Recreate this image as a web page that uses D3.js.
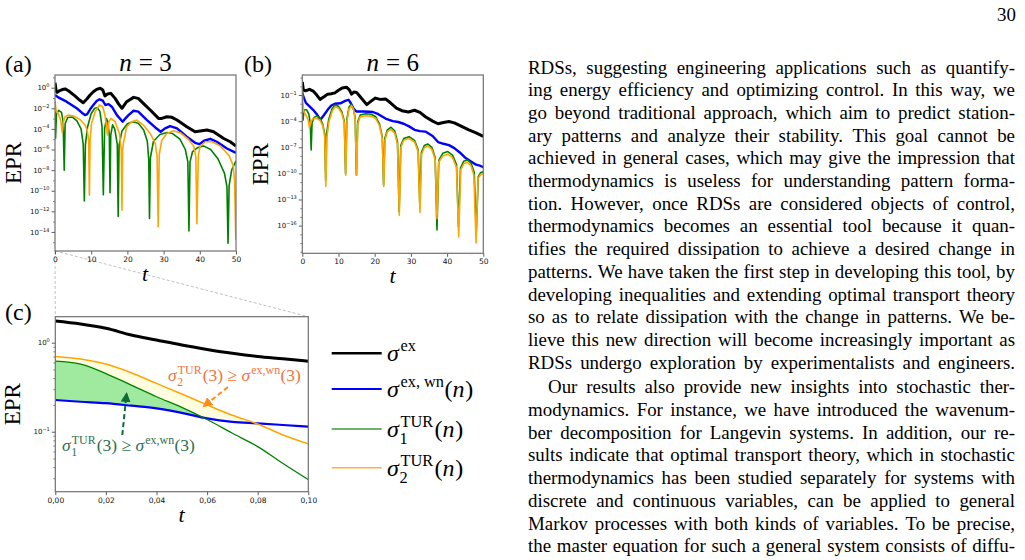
<!DOCTYPE html>
<html><head><meta charset="utf-8">
<script src="https://cdn.jsdelivr.net/npm/d3@7"></script>
<style>body{margin:0;background:#fff;} svg{display:block;} text{white-space:pre;}</style>
</head><body>
<svg id="c" width="1025" height="560"></svg>
<script>
// ---------------- DATA ----------------
// Panel (a), n = 3 : [t, log10(EPR)]
const a_ex = [[0,0.49],[0.3,-0.3],[0.6,-0.45],[1.2,-0.3],[2,-0.18],[2.8,-0.12],[3.7,-0.3],[5.5,-0.8],[6.8,-1.2],[7.8,-1.46],[8.8,-1.1],[9.7,-0.71],[10.6,-0.4],[11.5,-0.16],[12.5,-0.06],[13.2,-0.23],[13.8,-0.8],[14.5,-0.62],[15.4,-0.55],[16.6,-1.04],[17.6,-1.6],[18.5,-2.0],[19.8,-1.36],[21.7,-0.94],[23,-1.04],[24.4,-1.52],[26.3,-2.17],[28.6,-2.98],[29.5,-2.98],[30.9,-2.82],[32.3,-2.88],[33.7,-3.14],[36.4,-3.79],[38.7,-4.28],[40.1,-4.21],[42,-4.11],[43.8,-4.28],[46.6,-4.93],[48.4,-5.25],[50,-5.67]];
const a_exwn = [[0,-0.71],[0.9,-0.94],[3.2,-1.36],[6,-2.0],[7.5,-2.45],[8.3,-2.66],[8.9,-2.56],[9.7,-2.1],[10.6,-1.68],[11.5,-1.3],[12.3,-1.13],[13.2,-1.26],[13.9,-1.68],[14.8,-1.59],[15.7,-1.85],[17.1,-2.66],[18.7,-3.3],[19.4,-3.0],[20.3,-2.66],[21.7,-2.24],[23,-2.33],[25.4,-3.14],[27.7,-3.86],[29.2,-4.28],[30.4,-3.95],[31.8,-3.73],[33.7,-3.95],[36.4,-4.76],[38.7,-5.35],[39.9,-5.48],[41.2,-5.15],[42.9,-4.96],[44.7,-5.25],[47.5,-5.9],[50,-6.32]];
const a_tur1 = [[0,-2.3],[0.15,-4.9],[0.4,-2.6],[1,-2.2],[1.8,-2.4],[2.25,-3.3],[2.55,-8.0],[2.8,-3.5],[3.5,-2.9],[4.8,-2.85],[6,-3.2],[7.2,-4.0],[7.8,-5.5],[8.1,-11.0],[8.4,-5.5],[9,-3.8],[10,-2.5],[11,-2.0],[11.7,-1.95],[12.4,-2.3],[13.0,-3.8],[13.35,-10.4],[13.7,-4.0],[14.2,-3.0],[14.6,-3.3],[15.0,-4.6],[15.2,-10.2],[15.4,-4.6],[15.9,-3.6],[16.5,-4.0],[17.2,-5.5],[17.45,-12.5],[17.7,-5.6],[18.5,-4.2],[20,-3.5],[21.5,-3.3],[23,-3.45],[24.5,-4.1],[25.5,-5.2],[25.9,-7.0],[26.1,-12.7],[26.35,-6.8],[27.2,-5.2],[29,-4.55],[31,-4.35],[32.5,-4.45],[34.5,-5.0],[36,-6.0],[36.7,-7.2],[37.0,-13.9],[37.3,-7.2],[38,-6.2],[39.5,-5.8],[41,-5.65],[43,-6.0],[45,-6.9],[46.8,-8.3],[47.5,-9.6],[47.8,-15.1],[48.1,-9.5],[48.8,-8.0],[50,-7.1]];
const a_tur2 = [[0,-1.3],[0.3,-2.17],[1.0,-2.6],[1.6,-3.2],[2.0,-4.37],[2.4,-3.2],[2.8,-2.82],[3.7,-2.66],[5.1,-2.75],[6.9,-3.08],[8.3,-3.63],[8.9,-4.1],[9.3,-5.2],[9.5,-10.43],[9.7,-5.0],[10.1,-3.47],[11.1,-2.33],[12.3,-1.68],[13.2,-1.85],[13.8,-2.66],[14.3,-3.95],[14.5,-4.6],[14.9,-3.3],[15.5,-2.98],[16.6,-3.3],[17.8,-4.44],[18.3,-6.06],[18.5,-11.9],[18.7,-6.0],[18.9,-5.4],[19.8,-3.79],[21.2,-3.3],[22.6,-3.14],[24.4,-3.63],[26.3,-4.44],[27.7,-5.41],[28.2,-6.7],[28.5,-13.5],[28.8,-6.5],[29.5,-5.1],[30.9,-4.44],[32.7,-4.18],[34.6,-4.37],[36.9,-5.02],[38.3,-5.67],[38.9,-6.7],[39.2,-13.2],[39.6,-6.55],[40.1,-5.7],[41.5,-5.25],[43.4,-5.25],[45.7,-5.67],[48,-6.55],[49.2,-7.5],[49.6,-9.0],[49.95,-14.8]];

// Panel (b), n = 6 : [t, log10(EPR)]
const b_ex = [[0,0.5],[0.3,-0.45],[1,-0.5],[2,-0.35],[3,-0.55],[4,-1.0],[4.9,-1.5],[6,-1.2],[7,-0.9],[8,-0.85],[9,-0.75],[10,-0.45],[11,-0.2],[12.2,-0.1],[13,-0.4],[13.6,-0.9],[14.3,-0.65],[15,-0.7],[16,-1.2],[17.8,-2.1],[19,-1.7],[20.2,-1.35],[21.5,-1.5],[23,-1.45],[24.5,-1.95],[26,-2.5],[27.5,-2.8],[29.3,-2.95],[31,-2.75],[32.5,-3.0],[34,-3.5],[36,-4.0],[37.5,-4.3],[39,-4.15],[40.5,-4.05],[42,-4.2],[44,-4.6],[46,-5.0],[48,-5.35],[50,-5.75]];
const b_exwn = [[0,-0.7],[0.3,-1.2],[1,-1.9],[2,-2.3],[3,-2.7],[4,-3.2],[5,-3.85],[6,-3.3],[7,-2.7],[8,-2.2],[9,-2.0],[10.5,-1.95],[12,-1.65],[12.8,-1.55],[13.5,-2.0],[14.2,-2.6],[15,-2.9],[17,-2.9],[19.5,-2.95],[21,-3.2],[23,-3.7],[25,-4.0],[26.5,-4.1],[28,-4.3],[29.5,-4.6],[31,-5.0],[32.5,-5.15],[34,-5.2],[36,-5.7],[37.5,-6.4],[39,-6.6],[40.5,-6.75],[42,-7.1],[43.5,-7.6],[45,-8.2],[46.5,-8.6],[48,-9.0],[49,-9.1],[50,-9.3]];
const b_tur1 = [[0,-2.1],[0.2,-3.9],[0.5,-2.7],[1.2,-2.7],[1.8,-3.2],[2.2,-4.2],[2.45,-7.3],[2.7,-4.2],[3.2,-3.6],[4,-3.4],[4.8,-3.6],[5.6,-4.3],[6.2,-5.5],[6.45,-10.8],[6.7,-5.5],[7.3,-3.8],[8.2,-2.6],[9,-2.15],[10,-2.3],[10.9,-2.9],[11.6,-4.0],[11.95,-10.0],[12.3,-3.8],[12.9,-2.4],[13.5,-2.07],[14.1,-2.5],[14.6,-3.6],[14.95,-10.2],[15.3,-4.1],[16,-3.3],[17.5,-3.15],[19,-3.2],[20.3,-3.5],[21.3,-4.3],[22.1,-5.8],[22.45,-11.3],[22.8,-6.0],[23.5,-5.0],[24.5,-4.7],[25.5,-5.1],[26.3,-6.4],[26.75,-14.4],[27.2,-6.8],[28,-6.0],[29.5,-5.78],[31,-6.2],[32,-7.3],[32.45,-13.4],[32.9,-7.6],[33.7,-6.8],[34.7,-6.63],[35.8,-7.0],[36.7,-8.2],[37.2,-16.5],[37.7,-8.5],[38.8,-7.7],[40.2,-7.5],[41.5,-7.9],[42.6,-9.0],[43.15,-16.1],[43.7,-9.4],[44.6,-8.6],[45.6,-8.46],[46.6,-8.8],[47.5,-9.9],[48.05,-16.9],[48.6,-10.4],[49.3,-9.9],[50,-9.8]];
const b_tur2 = [[0,-0.3],[0.15,-1.8],[0.4,-2.9],[1,-3.3],[1.6,-3.8],[2.0,-4.8],[2.4,-4.0],[3,-3.7],[4,-3.68],[4.9,-3.9],[5.7,-4.6],[6.2,-5.8],[6.5,-11.5],[6.8,-5.8],[7.4,-4.0],[8.3,-2.8],[9.1,-2.34],[10,-2.5],[10.9,-3.1],[11.6,-4.2],[12.0,-10.2],[12.35,-4.0],[12.9,-2.6],[13.6,-2.22],[14.2,-2.7],[14.6,-3.8],[15.0,-10.2],[15.35,-4.3],[16,-3.5],[17.5,-3.38],[19,-3.42],[20.3,-3.7],[21.3,-4.5],[22.1,-6.0],[22.5,-11.5],[22.85,-6.2],[23.5,-5.2],[24.5,-4.94],[25.5,-5.35],[26.3,-6.7],[26.8,-14.8],[27.25,-7.0],[28,-6.2],[29.5,-6.0],[31,-6.4],[32,-7.5],[32.5,-14.5],[32.95,-7.8],[33.7,-7.05],[34.7,-6.86],[35.8,-7.25],[36.7,-8.4],[37.2,-15.2],[37.7,-8.7],[38.8,-8.0],[40.2,-7.8],[41.5,-8.2],[42.6,-9.3],[43.2,-17.3],[43.75,-9.6],[44.6,-8.9],[45.6,-8.73],[46.6,-9.1],[47.4,-10.2],[48.0,-18.0],[48.55,-10.6],[49.3,-10.1],[50,-10.07]];

// Panel (c), zoom of (a) for t in [0, 0.1]
const c_t    = [0,0.01,0.02,0.03,0.04,0.05,0.06,0.07,0.08,0.09,0.1];
const c_ex   = [1.75,1.62,1.45,1.22,1.07,0.94,0.84,0.76,0.70,0.66,0.62];
const c_exwn = [0.227,0.217,0.209,0.196,0.183,0.163,0.141,0.129,0.124,0.119,0.114];
const c_tur1 = [0.62,0.575,0.45,0.334,0.247,0.188,0.137,0.096,0.068,0.044,0.029];
const c_tur2 = [0.70,0.655,0.575,0.46,0.349,0.265,0.20,0.153,0.122,0.092,0.073];

// Ticks
const aTicksX = [0,10,20,30,40,50];
const aTicksY = [0,-2,-4,-6,-8,-10,-12,-14];
const bTicksY = [-1,-4,-7,-10,-13,-16];
const cTicksX = [0,0.02,0.04,0.06,0.08,0.1];
const cTicksY = [0,-1];

// Body text
const para1 = [
"RDSs, suggesting engineering applications such as quantify-",
"ing energy efficiency and optimizing control. In this way, we",
"go beyond traditional approach, which aim to predict station-",
"ary patterns and analyze their stability. This goal cannot be",
"achieved in general cases, which may give the impression that",
"thermodynamics is useless for understanding pattern forma-",
"tion. However, once RDSs are considered objects of control,",
"thermodynamics becomes an essential tool because it quan-",
"tifies the required dissipation to achieve a desired change in",
"patterns. We have taken the first step in developing this tool, by",
"developing inequalities and extending optimal transport theory",
"so as to relate dissipation with the change in patterns. We be-",
"lieve this new direction will become increasingly important as",
"RDSs undergo exploration by experimentalists and engineers."];
const para2 = [
"Our results also provide new insights into stochastic ther-",
"modynamics. For instance, we have introduced the wavenum-",
"ber decomposition for Langevin systems. In addition, our re-",
"sults indicate that optimal transport theory, which in stochastic",
"thermodynamics has been studied separately for systems with",
"discrete and continuous variables, can be applied to general",
"Markov processes with both kinds of variables. To be precise,",
"the master equation for such a general system consists of diffu-"];

// ---------------- DRAWING ----------------
const svg = d3.select('#c');
const SERIF = "'Liberation Serif','Times New Roman',serif";
const SANS = "'DejaVu Sans',sans-serif";
const COL = {ex:'#000000', exwn:'#0000ff', tur1:'#008000', tur2:'#ffa500'};
const FRAME = '#707070';

// math text engine: tokens [text, kind]; kind: i, r, sup, sub, subsup
function mathText(parent, x, y, tokens, fs, color, anchor) {
  const g = parent.append('g');
  let cx = 0;
  const mk = (txt, dx, dy, size, italic) => {
    const t = g.append('text').attr('x', dx).attr('y', dy).attr('font-family', SERIF)
      .attr('font-size', size).attr('fill', color).attr('font-style', italic ? 'italic' : 'normal').text(txt);
    return t.node().getComputedTextLength();
  };
  tokens.forEach(([txt, kind]) => {
    if (kind === 'i') cx += mk(txt, cx, 0, fs, true) + fs*0.03;
    else if (kind === 'r') cx += mk(txt, cx, 0, fs, false);
    else if (kind === 'sup') cx += mk(txt, cx + fs*0.04, -fs*0.42, fs*0.68, false) + fs*0.06;
    else if (kind === 'sub') cx += mk(txt, cx, fs*0.25, fs*0.68, false) + fs*0.04;
    else if (kind === 'subsup') {
      const w1 = mk(txt[0], cx, fs*0.3, fs*0.68, false);
      const w2 = mk(txt[1], cx + fs*0.04, -fs*0.42, fs*0.68, false);
      cx += Math.max(w1, w2 + fs*0.04) + fs*0.06;
    }
  });
  let ox = x;
  if (anchor === 'middle') ox = x - cx/2;
  else if (anchor === 'end') ox = x - cx;
  g.attr('transform', `translate(${ox},${y})`);
  return cx;
}

function supLabel(sel, exp, fs) {
  sel.text(null);
  sel.append('tspan').text('10');
  sel.append('tspan').attr('dy', -fs*0.45).attr('font-size', fs*0.72).text(exp < 0 ? '\u2212' + (-exp) : String(exp));
}

let clipN = 0;
function logPanel(o) {
  const g = svg.append('g');
  const x = d3.scaleLinear().domain(o.xDomain).range([o.x0, o.x1]);
  const y = d3.scaleLog().domain([10**o.yExp[0], 10**o.yExp[1]]).range([o.y1, o.y0]);
  const id = 'clip' + (clipN++);
  g.append('clipPath').attr('id', id).append('rect')
    .attr('x', o.x0).attr('y', o.y0).attr('width', o.x1 - o.x0).attr('height', o.y1 - o.y0);
  const line = d3.line().x(d => x(d[0])).y(d => y(10**d[1]));
  o.series.forEach(s => {
    g.append('path').attr('d', line(s.data)).attr('fill', 'none').attr('stroke', s.color)
      .attr('stroke-width', s.w).attr('stroke-linejoin', 'round').attr('clip-path', `url(#${id})`);
  });
  // axes
  const ax = g.append('g').attr('transform', `translate(0,${o.y1})`)
    .call(d3.axisBottom(x).tickValues(o.xTicks).tickSize(3.5).tickPadding(2));
  ax.select('.domain').remove();
  ax.selectAll('line').attr('stroke', '#333').attr('stroke-width', 0.8);
  ax.selectAll('text').attr('font-family', SANS).attr('font-size', 7.5).attr('fill', '#111');
  const minor = d3.range(Math.ceil(o.yExp[0]), Math.floor(o.yExp[1]) + 1).filter(e => !o.yTicks.includes(e));
  const aym = g.append('g').attr('transform', `translate(${o.x0},0)`)
    .call(d3.axisLeft(y).tickValues(minor.map(e => 10**e)).tickSize(2).tickFormat(() => ''));
  aym.select('.domain').remove();
  aym.selectAll('line').attr('stroke', '#333').attr('stroke-width', 0.6);
  const ay = g.append('g').attr('transform', `translate(${o.x0},0)`)
    .call(d3.axisLeft(y).tickValues(o.yTicks.map(e => 10**e)).tickSize(3.5).tickPadding(2));
  ay.select('.domain').remove();
  ay.selectAll('line').attr('stroke', '#333').attr('stroke-width', 0.8);
  ay.selectAll('text').attr('font-family', SANS).attr('font-size', 7).attr('fill', '#111')
    .each(function(d) { supLabel(d3.select(this), Math.round(Math.log10(d)), 7); });
  g.append('rect').attr('x', o.x0).attr('y', o.y0).attr('width', o.x1 - o.x0).attr('height', o.y1 - o.y0)
    .attr('fill', 'none').attr('stroke', FRAME).attr('stroke-width', 1.2);
  // labels
  g.append('text').attr('x', o.labelX).attr('y', 72).attr('font-family', SERIF).attr('font-size', 24).text(o.label);
  mathText(g, (o.x0 + o.x1)/2, 71, [['n','i'],[' = ','r'],[o.n,'r']], 25, '#000', 'middle');
  g.append('text').attr('transform', `translate(${o.x0 - 34},${(o.y0 + o.y1)/2}) rotate(-90)`)
    .attr('text-anchor', 'middle').attr('font-family', SERIF).attr('font-size', 23).text('EPR');
  mathText(g, (o.x0 + o.x1)/2, o.y1 + 30, [['t','i']], 22, '#000', 'middle');
  return {x, y};
}

const seriesA = [
  {data: a_ex, color: COL.ex, w: 3},
  {data: a_exwn, color: COL.exwn, w: 2.4},
  {data: a_tur1, color: COL.tur1, w: 1.6},
  {data: a_tur2, color: COL.tur2, w: 1.6}];
const seriesB = [
  {data: b_ex, color: COL.ex, w: 3},
  {data: b_exwn, color: COL.exwn, w: 2.4},
  {data: b_tur1, color: COL.tur1, w: 1.6},
  {data: b_tur2, color: COL.tur2, w: 1.6}];

// zoom connectors (drawn first, under everything)
const conn = svg.append('g').attr('stroke', '#b0b0b0').attr('stroke-width', 0.8).attr('stroke-dasharray', '3,2');

const A = logPanel({x0: 55, x1: 236, y0: 75, y1: 251, xDomain: [0, 50], yExp: [-15.85, 1.23],
  xTicks: aTicksX, yTicks: aTicksY, series: seriesA, label: '(a)', labelX: 5, n: '3'});
const B = logPanel({x0: 302.3, x1: 483.3, y0: 75, y1: 253.3, xDomain: [0, 50], yExp: [-19.18, 1.3],
  xTicks: aTicksX, yTicks: bTicksY, series: seriesB, label: '(b)', labelX: 244, n: '6'});

// ---- Panel (c)
const C = {x0: 55.3, x1: 308.3, y0: 316.7, y1: 491.7};
conn.append('line').attr('x1', A.x(0)).attr('y1', 251).attr('x2', C.x0).attr('y2', C.y0);
conn.append('line').attr('x1', A.x(0.1)).attr('y1', 251).attr('x2', C.x1).attr('y2', C.y0);

const cx = d3.scaleLinear().domain([0, 0.1]).range([C.x0, C.x1]);
const cy = d3.scaleLog().domain([10**-1.674, 10**0.292]).range([C.y1, C.y0]);
const gc = svg.append('g');
gc.append('clipPath').attr('id', 'clipc').append('rect')
  .attr('x', C.x0).attr('y', C.y0).attr('width', C.x1 - C.x0).attr('height', C.y1 - C.y0);
const curve = d3.curveMonotoneX;
const above = d3.area().curve(curve).x((d, i) => cx(c_t[i])).y0(d => cy(d)).y1(C.y0);
gc.append('clipPath').attr('id', 'aboveBlue').append('path').attr('d', above(c_exwn));
const between = (top) => d3.area().curve(curve).x((d, i) => cx(c_t[i])).y0((d, i) => cy(c_exwn[i])).y1((d, i) => cy(top[i]));
const fills = gc.append('g').attr('clip-path', 'url(#clipc)');
fills.append('path').attr('d', between(c_tur2)(c_t)).attr('fill', '#fefde0').attr('clip-path', 'url(#aboveBlue)');
fills.append('path').attr('d', between(c_tur1)(c_t)).attr('fill', '#9fea9f').attr('clip-path', 'url(#aboveBlue)');
const cline = d3.line().curve(curve).x((d, i) => cx(c_t[i])).y(d => cy(d));
[[c_ex, COL.ex, 3], [c_exwn, COL.exwn, 2.2], [c_tur1, COL.tur1, 1.3], [c_tur2, COL.tur2, 1.5]].forEach(([d, col, w]) => {
  gc.append('path').attr('d', cline(d)).attr('fill', 'none').attr('stroke', col).attr('stroke-width', w).attr('clip-path', 'url(#clipc)');
});
const cax = gc.append('g').attr('transform', `translate(0,${C.y1})`)
  .call(d3.axisBottom(cx).tickValues(cTicksX).tickSize(3.5).tickPadding(2).tickFormat(d => d3.format('.2f')(d).replace('.', ',')));
cax.select('.domain').remove();
cax.selectAll('line').attr('stroke', '#333').attr('stroke-width', 0.8);
cax.selectAll('text').attr('font-family', SANS).attr('font-size', 7.5).attr('fill', '#111');
const cMinor = [0.03,0.04,0.05,0.06,0.07,0.08,0.09,0.2,0.3,0.4,0.5,0.6,0.7,0.8,0.9];
const caym = gc.append('g').attr('transform', `translate(${C.x0},0)`)
  .call(d3.axisLeft(cy).tickValues(cMinor).tickSize(2).tickFormat(() => ''));
caym.select('.domain').remove();
caym.selectAll('line').attr('stroke', '#333').attr('stroke-width', 0.6);
const cay = gc.append('g').attr('transform', `translate(${C.x0},0)`)
  .call(d3.axisLeft(cy).tickValues(cTicksY.map(e => 10**e)).tickSize(3.5).tickPadding(2));
cay.select('.domain').remove();
cay.selectAll('line').attr('stroke', '#333').attr('stroke-width', 0.8);
cay.selectAll('text').attr('font-family', SANS).attr('font-size', 7).attr('fill', '#111')
  .each(function(d) { supLabel(d3.select(this), Math.round(Math.log10(d)), 7); });
gc.append('rect').attr('x', C.x0).attr('y', C.y0).attr('width', C.x1 - C.x0).attr('height', C.y1 - C.y0)
  .attr('fill', 'none').attr('stroke', FRAME).attr('stroke-width', 1.2);
gc.append('text').attr('x', 5).attr('y', 320).attr('font-family', SERIF).attr('font-size', 24).text('(c)');
gc.append('text').attr('transform', `translate(${C.x0 - 35},${(C.y0 + C.y1)/2}) rotate(-90)`)
  .attr('text-anchor', 'middle').attr('font-family', SERIF).attr('font-size', 23).text('EPR');
mathText(gc, (C.x0 + C.x1)/2, 522, [['t','i']], 22, '#000', 'middle');

// annotations
const defs = svg.append('defs');
function marker(id, color) {
  defs.append('marker').attr('id', id).attr('viewBox', '0 0 10 10').attr('refX', 8).attr('refY', 5)
    .attr('markerWidth', 5).attr('markerHeight', 5).attr('orient', 'auto')
    .append('path').attr('d', 'M0,0 L10,5 L0,10 z').attr('fill', color);
}
marker('arrO', '#ff8c1a');
marker('arrG', '#0e6b35');
gc.append('line').attr('x1', 228).attr('y1', 387).attr('x2', 204).attr('y2', 406)
  .attr('stroke', '#ff8c1a').attr('stroke-width', 2).attr('stroke-dasharray', '5,3').attr('marker-end', 'url(#arrO)');
gc.append('line').attr('x1', 122.3).attr('y1', 435).attr('x2', 126.5).attr('y2', 394)
  .attr('stroke', '#0e6b35').attr('stroke-width', 2).attr('stroke-dasharray', '5,3').attr('marker-end', 'url(#arrG)');
mathText(gc, 168, 381, [['σ','i'],[['2','TUR'],'subsup'],['(3) ≥ ','r'],['σ','i'],['ex,wn','sup'],['(3)','r']], 17.5, '#f4743b', 'start');
mathText(gc, 62, 451, [['σ','i'],[['1','TUR'],'subsup'],['(3) ≥ ','r'],['σ','i'],['ex,wn','sup'],['(3)','r']], 17.5, '#2e7050', 'start');

// legend
const legRows = [
  {y: 353.3, color: COL.ex, w: 2.6, tok: [['σ','i'],['ex','sup']]},
  {y: 389, color: COL.exwn, w: 2, tok: [['σ','i'],['ex, wn','sup'],['(','r'],['n','i'],[')','r']]},
  {y: 429, color: '#3a9d3a', w: 1.6, tok: [['σ','i'],[['1','TUR'],'subsup'],['(','r'],['n','i'],[')','r']]},
  {y: 467.7, color: '#ffb23a', w: 1.4, tok: [['σ','i'],[['2','TUR'],'subsup'],['(','r'],['n','i'],[')','r']]}];
const leg = svg.append('g');
legRows.forEach(r => {
  leg.append('line').attr('x1', 331.7).attr('x2', 381.7).attr('y1', r.y).attr('y2', r.y)
    .attr('stroke', r.color).attr('stroke-width', r.w);
  mathText(leg, 387, r.y + 8, r.tok, 24, '#000', 'start');
});

// ---- body text
const FS = 18.9, LH = 22.7, TX0 = 528, TX1 = 1015;
const body = svg.append('g').attr('font-family', SERIF).attr('font-size', FS).attr('fill', '#000');
function justified(line, x0, x1, y) {
  const words = line.split(' ');
  const t = body.append('text').attr('y', y);
  const spans = words.map(w => t.append('tspan').text(w));
  const widths = spans.map(s => s.node().getComputedTextLength());
  const gap = words.length > 1 ? (x1 - x0 - d3.sum(widths)) / (words.length - 1) : 0;
  let xx = x0;
  spans.forEach((s, i) => { s.attr('x', xx); xx += widths[i] + gap; });
}
const y1 = 73.5;
para1.forEach((l, i) => justified(l, TX0, TX1, y1 + i*LH));
const y2 = y1 + 14*LH + 2;
para2.forEach((l, i) => justified(l, i === 0 ? TX0 + 20 : TX0, TX1, y2 + i*LH));
body.append('text').attr('x', 1016).attr('y', 21).attr('text-anchor', 'end').text('30');
</script>
</body></html>
